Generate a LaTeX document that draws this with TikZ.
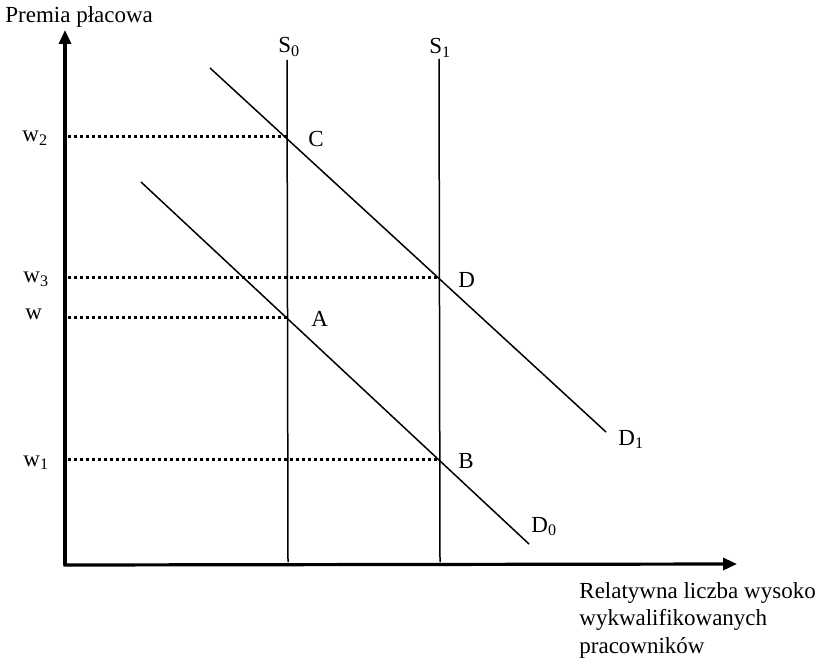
\documentclass[tikz,border=0pt]{standalone}
\usepackage{fontspec}
\setmainfont{Liberation Serif}
\usetikzlibrary{arrows.meta}
\begin{document}
\begin{tikzpicture}[x=0.5pt,y=-0.5pt,
  axis/.style={line width=1.6pt,-{Triangle[length=7pt,width=6pt]}},
  curve/.style={line width=0.75pt},
  guide/.style={line width=1.5pt,dash pattern=on 1.5pt off 1.5pt},
  lbl/.style={anchor=base west,inner sep=0pt,font=\fontsize{11.5pt}{13pt}\selectfont}]
\useasboundingbox (0,0) rectangle (817,657);
% axes
\coordinate (O) at (65,565);
\coordinate (Ytop) at (65,30);
\coordinate (Xend) at (737,564);
\draw[axis] (O) -- (Ytop);
\draw[axis] ([xshift=-0.8pt]O) -- (Xend);
% supply
\coordinate (S0t) at (287,60);
\coordinate (S0b) at (288,562);
\coordinate (S1t) at (439,59);
\coordinate (S1b) at (440,562);
\draw[curve] (S0t) -- (S0b);
\draw[curve] (S1t) -- (S1b);
% demand
\coordinate (D1a) at (210,68);
\coordinate (D1b) at (606,432);
\coordinate (D0a) at (141,182);
\coordinate (D0b) at (529,544);
\draw[curve] (D1a) -- (D1b);
\draw[curve] (D0a) -- (D0b);
% equilibria
\coordinate (C) at (287,137);
\coordinate (D) at (439,277);
\coordinate (A) at (287,317);
\coordinate (B) at (439,459);
\coordinate (yC) at (68,137);
\coordinate (yD) at (68,277);
\coordinate (yA) at (68,317);
\coordinate (yB) at (68,459);
\draw[guide] (yC) -- (C);
\draw[guide] (yD) -- (D);
\draw[guide] (yA) -- (A);
\draw[guide] (yB) -- (B);
% labels
\node[lbl] (ylab) at (5,23) {Premia płacowa};
\node[lbl] (lw2) at (22,142) {w\textsubscript{2}};
\node[lbl] (lw3) at (23,283) {w\textsubscript{3}};
\node[lbl] (lw) at (25,319) {w};
\node[lbl] (lw1) at (23,466) {w\textsubscript{1}};
\node[lbl] (lS0) at (278,53) {S\textsubscript{0}};
\node[lbl] (lS1) at (429,54) {S\textsubscript{1}};
\node[lbl] (lC) at (308,147) {C};
\node[lbl] (lD) at (458,287) {D};
\node[lbl] (lA) at (311,326) {A};
\node[lbl] (lB) at (458,468) {B};
\node[lbl] (lD1) at (618,445) {D\textsubscript{1}};
\node[lbl] (lD0) at (531,532) {D\textsubscript{0}};
\node[lbl] (x1) at (579,598) {Relatywna liczba wysoko};
\node[lbl] (x2) at (579,625) {wykwalifikowanych};
\node[lbl] (x3) at (579,653) {pracowników};
\end{tikzpicture}
\end{document}
